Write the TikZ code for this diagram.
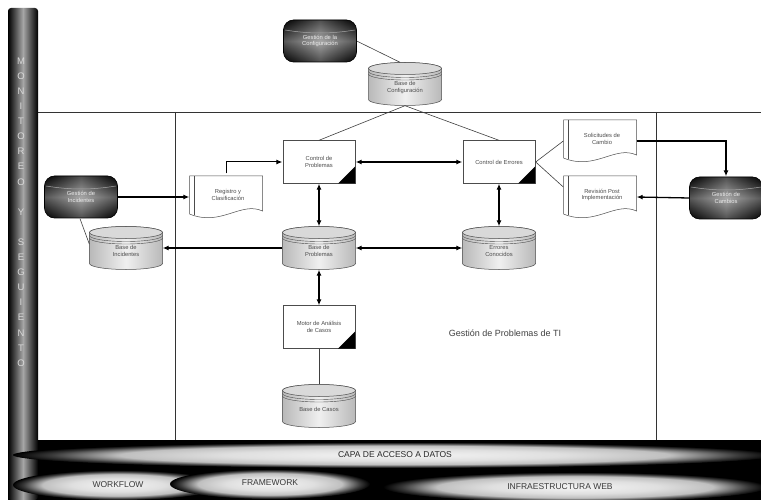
\documentclass[tikz,border=0pt]{standalone}
\usepackage{fontspec}
\setmainfont{Liberation Sans}
\usetikzlibrary{arrows.meta,calc}
\pgfdeclareradialshading{glow}{\pgfpoint{0bp}{0bp}}{color(0bp)=(gray!8); color(11bp)=(gray!25); color(18bp)=(gray!50); color(22.5bp)=(gray!45!black); color(25bp)=(black); color(50bp)=(black)}
\newcommand{\DBshape}[1]{%
  \begin{scope}[shift={(#1)}]
    \shade[left color=gray!55, right color=gray!55, middle color=gray!12, draw=gray!60!black, line width=0.5pt]
      (-36.5,-15.5) -- (-36.5,15.5) arc[start angle=180,end angle=0,x radius=36.5,y radius=6]
      -- (36.5,-15.5) arc[start angle=0,end angle=-180,x radius=36.5,y radius=6] -- cycle;
    \fill[gray!30] (0,-15.5) ellipse[x radius=36.5,y radius=6];
    \draw[gray!60!black, line width=0.5pt] (0,-15.5) ellipse[x radius=36.5,y radius=6];
    \draw[gray!60!black, line width=0.4pt] (-36.5,-12.5) arc[start angle=180,end angle=0,x radius=36.5,y radius=6];
    \draw[gray!60!black, line width=0.4pt] (-36.5,-10) arc[start angle=180,end angle=0,x radius=36.5,y radius=6];
  \end{scope}}
\newcommand{\TINshape}[1]{%
  \begin{scope}[shift={(#1)}]
    \shade[top color=black, bottom color=black, middle color=gray!75, rounded corners=10pt]
      (-36.5,-21) rectangle (36.5,21);
    \shade[left color=black, right color=black, middle color=gray!60, opacity=0.45, rounded corners=10pt]
      (-36.5,-21) rectangle (36.5,21);
    \draw[gray!70, line width=0.5pt] (-35,-11) .. controls (-10,-7) and (10,-7) .. (35,-11);
    \draw[black, line width=0.6pt, rounded corners=10pt] (-36.5,-21) rectangle (36.5,21);
  \end{scope}}
\newcommand{\DOCshape}[1]{%
  \begin{scope}[shift={(#1)}]
    \draw[fill=white, draw=gray!60!black, line width=0.5pt]
      (-36.5,-21) -- (36.5,-21) -- (36.5,14) .. controls (15,4) and (-5,30) .. (-36.5,17) -- cycle;
    \draw[gray!60!black, line width=0.5pt] (-31.5,-21) -- (-31.5,18.5);
  \end{scope}}
\newcommand{\PROCshape}[1]{%
  \begin{scope}[shift={(#1)}]
    \draw[fill=white, draw=gray!60!black, line width=0.6pt] (-36,-21.5) rectangle (36,21.5);
    \fill[black] (36,21.5) -- (36,4.5) -- (19,21.5) -- cycle;
  \end{scope}}
\begin{document}
\begin{tikzpicture}[x=1pt,y=-1pt,
  lbl/.style={minimum width=73pt, minimum height=43pt, align=center, inner sep=1pt,
    font=\fontsize{5.8}{6.8}\selectfont, text=gray!60!black},
  dlbl/.style={lbl, text=gray!15},
  arr/.style={line width=1.3pt, -{Latex[length=6pt,width=5pt]}},
  darr/.style={line width=1.3pt, {Latex[length=6pt,width=5pt]}-{Latex[length=6pt,width=5pt]}},
  thin/.style={draw=gray!50!black, line width=0.6pt},
  frame/.style={draw=gray!40!black, line width=0.7pt},
  letter/.style={font=\fontsize{9.5}{10}\selectfont, text=gray!30, inner sep=0pt},
  band/.style={font=\fontsize{8.5}{9}\selectfont, text=gray!30!black, inner sep=0pt},
]
\useasboundingbox (0,0) rectangle (761,500);
\fill[white] (0,0) rectangle (761,500);
% frame
\draw[frame] (38,112) -- (761,112);
\draw[frame] (175,112) -- (175,440);
\draw[frame] (656,112) -- (656,440);
% left bar and bottom band
\fill[black] (8,440) rectangle (761,500);
\shade[left color=black, right color=black, middle color=gray!70, rounded corners=3pt] (8,8) rectangle (38,500);
\draw[black, line width=1pt] (38,440) -- (761,440);
\foreach \c [count=\i from 0] in {M,O,N,I,T,O,R,E,O,{},Y,{},S,E,G,U,I,E,N,T,O}
  \node[letter] (l\i) at (21,{61+15.1*\i}) {\c};
% bottom ellipses
\shade[shading=glow] (395,455) ellipse[x radius=382,y radius=13];
\shade[shading=glow] (118,485) ellipse[x radius=105,y radius=15];
\shade[shading=glow] (270,484) ellipse[x radius=100,y radius=15];
\shade[shading=glow] (575,487) ellipse[x radius=192,y radius=15];
\node[band] (capa) at (395,455) {CAPA DE ACCESO A DATOS};
\node[band, text=gray!45!black] (wf) at (118,485) {WORKFLOW};
\node[band, text=gray!45!black] (fw) at (270,483) {FRAMEWORK};
\node[band, text=gray!45!black] (iw) at (560,487) {INFRAESTRUCTURA WEB};
% shapes
\TINshape{320,41}
\node[dlbl] (cfgm) at (320,41) {Gestión de la\\Configuración};
\DBshape{405,84}
\node[lbl] (cfgb) at (405,84) {\\[4pt]Base de\\Configuración};
\PROCshape{319,162}
\node[lbl] (cp) at (319,162) {Control de\\Problemas};
\PROCshape{499,162}
\node[lbl] (ce) at (499,162) {Control de Errores};
\DOCshape{600,141}
\node[lbl] (sol) at (602,139) {Solicitudes de\\Cambio};
\DOCshape{600,197}
\node[lbl] (rev) at (602,195) {Revisión Post\\Implementación};
\TINshape{726,198}
\node[dlbl] (cam) at (726,198) {Gestión de\\Cambios};
\TINshape{81,197}
\node[dlbl] (inc) at (81,197) {Gestión de\\Incidentes};
\DBshape{126,248}
\node[lbl] (binc) at (126,248) {\\[4pt]Base de\\Incidentes};
\DOCshape{226,197}
\node[lbl] (reg) at (228,195) {Registro y\\Clasificación};
\DBshape{319,248}
\node[lbl] (bp) at (319,248) {\\[4pt]Base de\\Problemas};
\DBshape{499,248}
\node[lbl] (ec) at (499,248) {\\[4pt]Errores\\Conocidos};
\PROCshape{319,327}
\node[lbl] (mo) at (319,327) {Motor de Análisis\\de Casos};
\DBshape{319,406}
\node[lbl] (bc) at (319,406) {\\[4pt]Base de Casos};
\node[font=\fontsize{9}{10}\selectfont, text=gray!50!black] (title) at (505,333) {Gestión de Problemas de TI};
% connectors
\draw[thin] (cfgm.east) -- ($(cfgb.north)+(-5,0)$);
\draw[thin] (cfgb.south) -- (cp.north);
\draw[thin] (cfgb.south) -- (ce.north);
\draw[thin] (ce.east) -- ($(sol.west)+(-2,2)$);
\draw[thin] (ce.east) -- ($(rev.west)+(-2,-8)$);
\draw[thin] ($(inc.south)+(-1,0)$) -- ($(binc.west)+(0,-4)$);
\draw[thin] (mo.south) -- (bc.north);
\draw[darr] (cp.east) -- (ce.west);
\draw[darr] (cp.south) -- (bp.north);
\draw[darr] (ce.south) -- (ec.north);
\draw[darr] (bp.east) -- (ec.west);
\draw[darr] (bp.south) -- (mo.north);
\draw[arr] (bp.west) -- (binc.east);
\draw[arr] (inc.east) -- ($(reg.west)+(-2,2)$);
\draw[arr, line width=1pt] ($(reg.north)+(-2,0)$) |- (cp.west);
\draw[arr] ($(sol.east)+(-2,2)$) -| (cam.north);
\draw[arr] (cam.west) -- ($(rev.east)+(-2,2)$);
\end{tikzpicture}
\end{document}
